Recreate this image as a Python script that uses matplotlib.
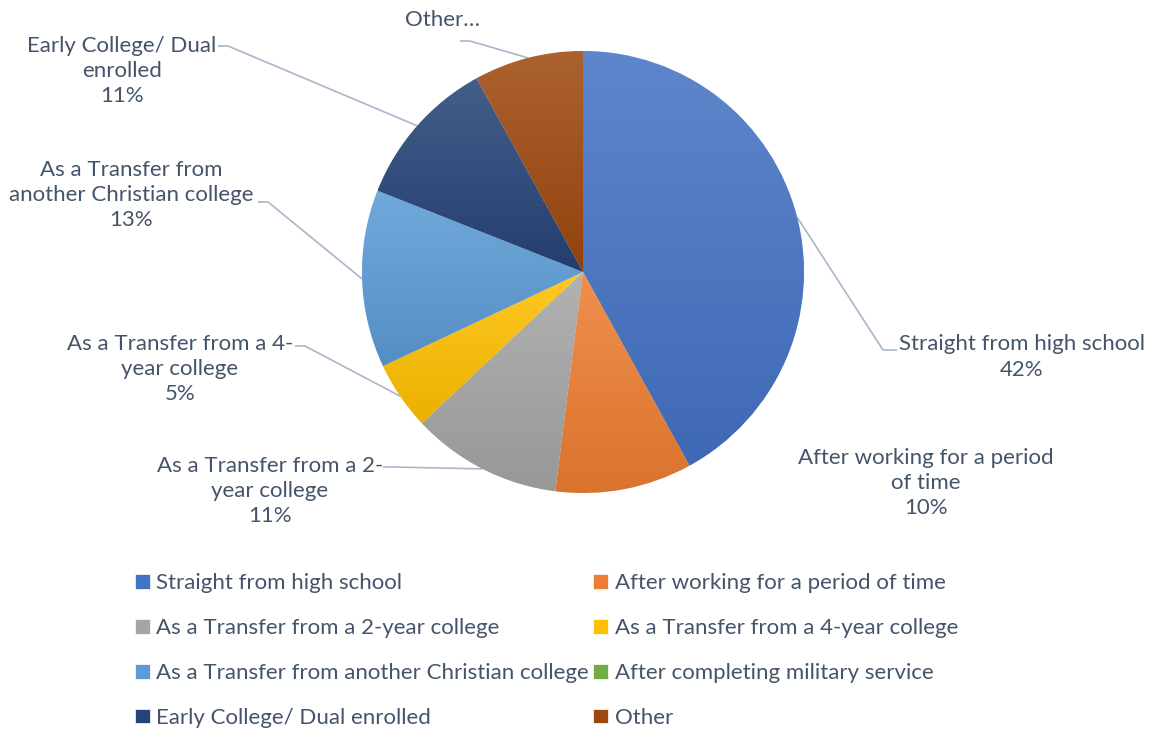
import numpy as np
import matplotlib
matplotlib.use("Agg")
import matplotlib.pyplot as plt
from matplotlib.colors import to_rgb

# data
categories = [
    "Straight from high school",
    "After working for a period of time",
    "As a Transfer from a 2-year college",
    "As a Transfer from a 4-year college",
    "As a Transfer from another Christian college",
    "After completing military service",
    "Early College/ Dual enrolled",
    "Other",
]
shares = [42, 10, 11, 5, 13, 0, 11, 8]
base_colors = ['#4472C4', '#ED7D31', '#A5A5A5', '#FFC000',
               '#5B9BD5', '#70AD47', '#264478', '#9E480E']

# wrapped data labels as shown on the chart
label_text = [
    "Straight from high school",
    "After working for a period\nof time",
    "As a Transfer from a 2-\nyear college",
    "As a Transfer from a 4-\nyear college",
    "As a Transfer from\nanother Christian college",
    None,
    "Early College/ Dual\nenrolled",
    "Other\u2026",
]
show_pct = [True, True, True, True, True, False, True, False]

W, H = 1154, 732
TEXT = '#44546A'
LEADER = '#A9B6C9'
FONT = 'Lato'
FS = 16

# label layout in image pixels: (text centre x, text centre y, leader elbow x, elbow y, side)
label_pos = {
    0: (1022, 357, 883, 350, 'right'),
    1: (926, 483, None, None, None),
    2: (270, 491, 383, 467, 'left'),
    3: (180, 369, 295, 346, 'left'),
    4: (131, 195, 258, 202, 'left'),
    6: (122, 71, 218, 46, 'left'),
    7: (443, 20, 460, 41, 'left'),
}

cx, cy, R = 583, H - 272, 221


def blend(c, other, t):
    c = np.array(to_rgb(c))
    return tuple(c * (1 - t) + np.array(other) * t)


fig = plt.figure(figsize=(W / 100, H / 100), dpi=100)
ax = fig.add_axes([0, 0, 1, 1])

wedges, _ = ax.pie(shares, colors=base_colors, startangle=90, counterclock=False,
                   center=(cx, cy), radius=R,
                   wedgeprops=dict(linewidth=0.5, edgecolor='white'))

# vertical gradient fill on every slice
for w, v, c in zip(wedges, shares, base_colors):
    if v == 0:
        continue
    bb = w.get_path().get_extents()
    top, bot = blend(c, (1, 1, 1), 0.14), blend(c, (0, 0, 0), 0.08)
    grad = np.linspace(0, 1, 64)[:, None, None]
    img = np.array(top)[None, None, :] * (1 - grad) + np.array(bot)[None, None, :] * grad
    im = ax.imshow(img, extent=[bb.x0, bb.x1, bb.y0, bb.y1], origin='upper',
                   aspect='auto', interpolation='bilinear', zorder=w.get_zorder() + 0.1)
    im.set_clip_path(w)

# data labels + leader lines
for i, (w, v) in enumerate(zip(wedges, shares)):
    if label_text[i] is None:
        continue
    tx, ty, ex, ey, side = label_pos[i]
    s = label_text[i] + (f"\n{v}%" if show_pct[i] else "")
    ax.text(tx, H - ty, s, ha='center', va='center', fontsize=FS, color=TEXT,
            family=FONT, linespacing=1.33, zorder=5)
    if ex is None:
        continue
    mid = np.deg2rad((w.theta1 + w.theta2) / 2)
    px, py = cx + R * np.cos(mid), cy + R * np.sin(mid)
    if side == 'left':
        xs = [ex, ex + 10, px]
    else:
        xs = [ex + 14, ex, px]
    ax.plot(xs, [H - ey, H - ey, py], color=LEADER, lw=1.2, zorder=1,
            solid_capstyle='butt')

ax.set_xlim(0, W)
ax.set_ylim(0, H)
ax.axis('off')

# legend, row-major order like the original
order = [0, 2, 4, 6, 1, 3, 5, 7]
fig.legend([wedges[k] for k in order], [categories[k] for k in order],
           loc='upper left', bbox_to_anchor=(124 / W, 1 - 562 / H), ncol=2,
           frameon=False, prop=dict(family=FONT, size=FS), labelcolor=TEXT,
           handlelength=0.65, handleheight=0.65, handletextpad=0.3,
           columnspacing=0.2, labelspacing=1.12, borderpad=0)

fig.savefig('out.png', dpi=100)
